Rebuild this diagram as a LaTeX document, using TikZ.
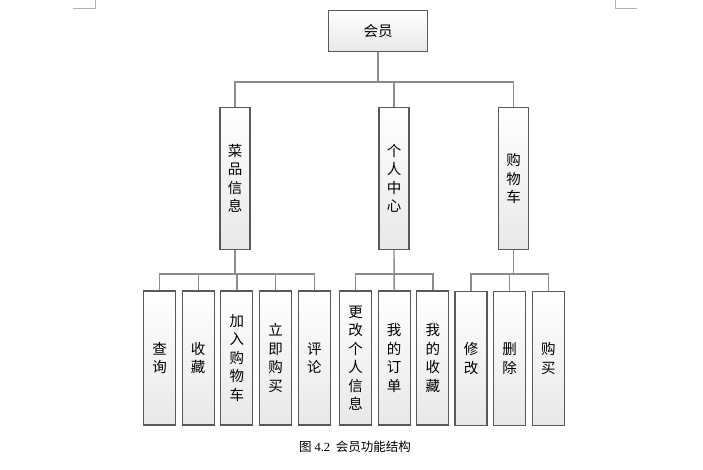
\documentclass[tikz,border=0pt]{standalone}
\usepackage{fontspec}
\usepackage{tikz}
\usetikzlibrary{positioning}
\newfontfamily\cjk{Noto Sans CJK SC}
\newfontfamily\numfont{Liberation Serif}
\definecolor{boxline}{HTML}{595959}
\definecolor{linkgray}{HTML}{8C8C8C}
\tikzstyle{block}=[
draw=boxline,
line width=1.1pt,
top color=white,
bottom color=black!9,
inner sep=0pt,
align=center,
font=\cjk\fontsize{14.5}{18.5}\selectfont
]
\tikzstyle{upper}=[block, minimum width=30pt, minimum height=142pt]
\tikzstyle{leaf}=[block, minimum width=32pt, minimum height=134pt]
\tikzstyle{link}=[
draw=linkgray,
line width=1.4pt
]

\begin{document}
\begin{tikzpicture}[x=1pt,y=1pt,node distance=5.6pt]
\useasboundingbox (0,0) rectangle (703,-470);

% page corner marks
\draw[black!30, line width=0.6pt] (73,-8) -- (95,-8) -- (95,0);
\draw[black!30, line width=0.6pt] (615,0) -- (615,-8) -- (637,-8);

\node (member) [block, minimum width=99pt, minimum height=41pt] at (378,-31) {会员};

\node (dish) [upper] at (235,-178.5) {菜\\品\\信\\息};
\node (center) [upper] at (394,-178.5) {个\\人\\中\\心};
\node (cart) [upper] at (513.5,-178.5) {购\\物\\车};

\node (query) [leaf] at (159.5,-358) {查\\询};
\node (fav) [leaf, right=of query] {收\\藏};
\node (addcart) [leaf, right=of fav] {加\\入\\购\\物\\车};
\node (buynow) [leaf, right=of addcart] {立\\即\\购\\买};
\node (review) [leaf, right=of buynow] {评\\论};

\node (profile) [leaf] at (355.5,-358) {更\\改\\个\\人\\信\\息};
\node (orders) [leaf, right=of profile] {我\\的\\订\\单};
\node (myfav) [leaf, right=of orders] {我\\的\\收\\藏};

\node (edit) [leaf] at (471,-358.5) {修\\改};
\node (remove) [leaf, right=of edit] {删\\除};
\node (buy) [leaf, right=of remove] {购\\买};

\coordinate (bus1) at (0,-82);
\coordinate (bus2) at (0,-274);

\draw[link] (member.south) -- (member.south |- bus1);
\draw[link] (dish.north) -- (dish.north |- bus1) -| (cart.north);
\draw[link] (center.north) -- (center.north |- bus1);

\draw[link] (query.north) -- (query.north |- bus2) -| (review.north);
\foreach \n in {fav,addcart,buynow}
  \draw[link] (\n.north) -- (\n.north |- bus2);
\draw[link] (dish.south) -- (dish.south |- bus2);

\draw[link] (profile.north) -- (profile.north |- bus2) -| (myfav.north);
\draw[link] (center.south) -- (orders.north);

\draw[link] (edit.north) -- (edit.north |- bus2) -| (buy.north);
\draw[link] (cart.south) -- (cart.south |- bus2);
\draw[link] (remove.north) -- (remove.north |- bus2);

\node (caption) at (355,-447) {\cjk\fontsize{12.5}{14}\selectfont 图 {\numfont 4.2} \ 会员功能结构};

\end{tikzpicture}
\end{document}
